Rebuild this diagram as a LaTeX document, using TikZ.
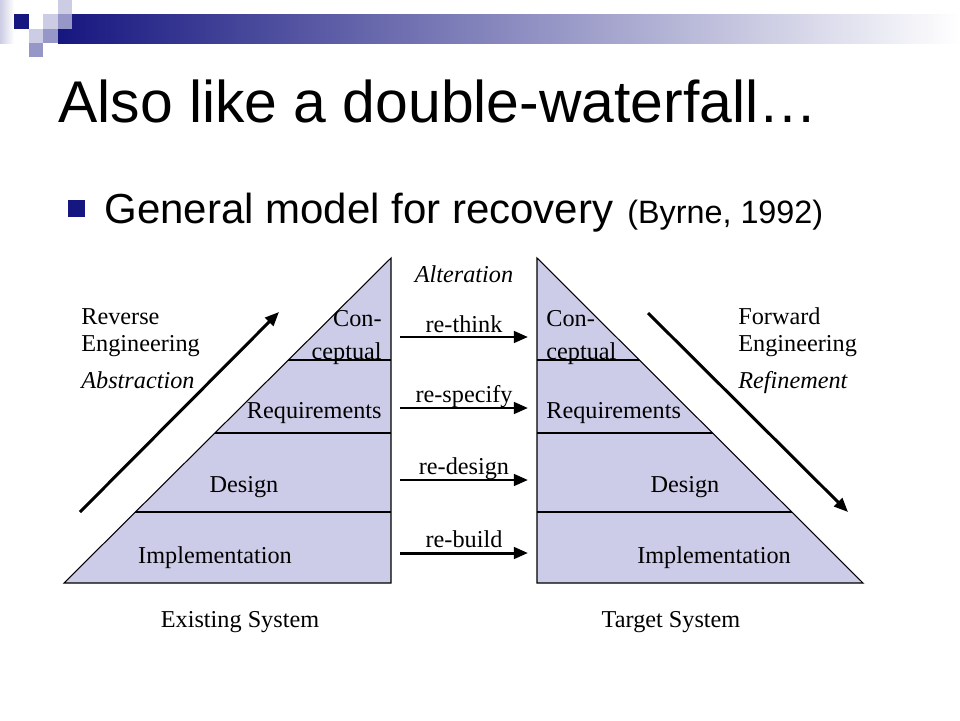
\documentclass[tikz,border=0pt]{standalone}
\usepackage{fontspec}
\setmainfont{Liberation Serif}
\newfontfamily\headfont{Liberation Sans}
\usetikzlibrary{arrows.meta}

\definecolor{pyrfill}{RGB}{204,204,232}
\definecolor{navy}{RGB}{22,22,128}
\definecolor{lavlight}{RGB}{204,204,228}
\definecolor{lavmid}{RGB}{150,150,200}

\tikzset{
  lbl/.style={inner sep=0pt,font=\fontsize{13.8}{16}\selectfont},
  pyr/.style={fill=pyrfill,draw=black,line width=0.6pt},
  bigarrow/.style={line width=1.7pt,-{Triangle[length=8pt,width=6.5pt]}},
}

\begin{document}
\begin{tikzpicture}[x=0.02cm,y=-0.02cm]
\useasboundingbox[fill=white] (0,0) rectangle (960,720);

% header band
\shade[left color=lavlight,right color=white] (0,0) rectangle (14,43);
\shade[left color=navy,middle color={rgb,255:red,150;green,150;blue,180},right color=white] (58,14) rectangle (960,43);
\fill[navy] (14,14) rectangle (29,29);
\fill[lavlight] (58,0) rectangle (72,14);
\fill[lavlight] (43,14) rectangle (58,29);
\fill[lavmid] (58,14) rectangle (72,29);
\fill[lavlight] (29,29) rectangle (43,43);
\fill[lavmid] (43,29) rectangle (58,43);
\fill[lavmid] (29,43) rectangle (43,57);

\node[anchor=base west,inner sep=0pt,font=\headfont\fontsize{33.5}{38}\selectfont] (title) at (58,122) {Also like a double-waterfall…};
\fill[navy] (68,200) rectangle (85,217);
\node[anchor=base west,inner sep=0pt,font=\headfont\fontsize{23.9}{28}\selectfont] (sub) at (104,223) {General model for recovery};
\node[anchor=base west,inner sep=0pt,font=\headfont\fontsize{18.4}{22}\selectfont] (ref) at (627,223) {(Byrne, 1992)};

% existing system
\draw[pyr] (391,258) -- (391,583) -- (64,583) -- cycle;
\begin{scope}
\clip (391,258) -- (391,583) -- (64,583) -- cycle;
\draw[line width=0.6pt] (60,360) -- (391,360) (60,433) -- (391,433) (60,512) -- (391,512);
\end{scope}
% target system
\draw[pyr] (537,258) -- (537,583) -- (863,583) -- cycle;
\begin{scope}
\clip (537,258) -- (537,583) -- (863,583) -- cycle;
\draw[line width=0.6pt] (537,360) -- (870,360) (537,433) -- (870,433) (537,512) -- (870,512);
\end{scope}

\node[lbl,anchor=base east] (lcon) at (382,326) {Con-};
\node[lbl,anchor=base east] (lcep) at (382,359) {ceptual};
\node[lbl,anchor=base east] (lreq) at (382,418) {Requirements};
\node[lbl,anchor=base] (ldes) at (244,492) {Design};
\node[lbl,anchor=base] (limp) at (215,563) {Implementation};

\node[lbl,anchor=base west] (rcon) at (546,326) {Con-};
\node[lbl,anchor=base west] (rcep) at (546,359) {ceptual};
\node[lbl,anchor=base west] (rreq) at (546,418) {Requirements};
\node[lbl,anchor=base] (rdes) at (685,492) {Design};
\node[lbl,anchor=base] (rimp) at (714,563) {Implementation};

\node[lbl,anchor=base] (exist) at (240,627) {Existing System};
\node[lbl,anchor=base] (target) at (671,627) {Target System};

\node[lbl,anchor=base west] (rev) at (81,324) {Reverse};
\node[lbl,anchor=base west] (reveng) at (81,351) {Engineering};
\node[lbl,anchor=base west] (abstr) at (81,388) {\itshape Abstraction};
\node[lbl,anchor=base west] (fwd) at (738,324) {Forward};
\node[lbl,anchor=base west] (fwdeng) at (738,351) {Engineering};
\node[lbl,anchor=base west] (refine) at (738,388) {\itshape Refinement};

\coordinate (upstart) at (80,512);
\coordinate (upend) at (279,312);
\coordinate (downstart) at (648,313);
\coordinate (downend) at (848,512);
\draw[bigarrow] (upstart) -- (upend);
\draw[bigarrow] (downstart) -- (downend);

% alteration
\node[lbl,anchor=base] (alter) at (464,282) {\itshape Alteration};
\node[lbl,anchor=base] (think) at (464,332) {re-think};
\node[lbl,anchor=base] (spec) at (464,402) {re-specify};
\node[lbl,anchor=base] (design) at (464,474) {re-design};
\node[lbl,anchor=base] (build) at (464,547) {re-build};

\coordinate (thinkL) at (400,337);  \coordinate (thinkR) at (528,337);
\coordinate (specL) at (400,408);   \coordinate (specR) at (528,408);
\coordinate (designL) at (400,480); \coordinate (designR) at (528,480);
\coordinate (buildL) at (400,553);  \coordinate (buildR) at (528,553);
\draw[bigarrow] (thinkL) -- (thinkR);
\draw[bigarrow] (specL) -- (specR);
\draw[bigarrow] (designL) -- (designR);
\draw[bigarrow] (buildL) -- (buildR);
\end{tikzpicture}
\end{document}
